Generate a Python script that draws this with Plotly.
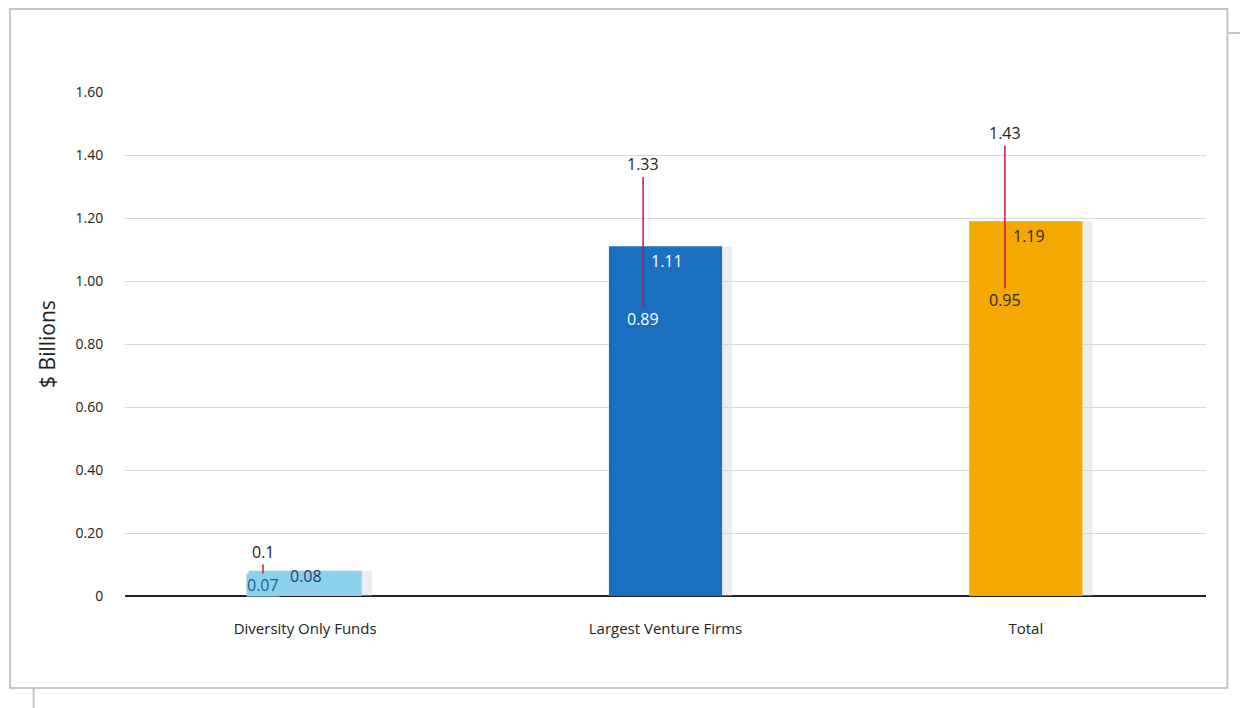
import plotly.graph_objects as go

categories = ["Diversity Only Funds", "Largest Venture Firms", "Total"]
values = [0.08, 1.11, 1.19]
upper = [0.10, 1.33, 1.43]
lower = [0.07, 0.89, 0.95]
tick_vals = [0, 0.2, 0.4, 0.6, 0.8, 1.0, 1.2, 1.4, 1.6]
tick_text = ["0", "0.20", "0.40", "0.60", "0.80", "1.00", "1.20", "1.40", "1.60"]

# styles
bar_colors = ["#8dd0ee", "#1a6fc0", "#f5a800"]
bar_label_colors = ["#1d3f66", "#ffffff", "#2a2a2a"]
low_label_colors = ["#1f5d99", "#ffffff", "#2a2a2a"]
err_offset = [-0.117, -0.062, -0.058]
low_shift = [-11, -3, -3]
val_xshift = [25, 6, 6]
val_yshift = [8, -2, -2]
BAR_W = 0.314
FONT = "Open Sans, Lato, sans-serif"

xpos = list(range(len(categories)))
err_x = [p + o for p, o in zip(xpos, err_offset)]

fig = go.Figure()

# soft shadow behind bars
fig.add_trace(go.Bar(
    x=xpos, y=values, width=BAR_W, offset=-BAR_W / 2 + 0.028,
    marker=dict(color="rgba(205,210,220,0.4)", line=dict(width=0)),
    hoverinfo="skip", showlegend=False,
))
fig.add_trace(go.Bar(
    x=xpos, y=values, width=BAR_W, offset=-BAR_W / 2,
    marker=dict(color=bar_colors, line=dict(width=0)),
    showlegend=False,
))
# range lines
for xe, lo, hi in zip(err_x, lower, upper):
    fig.add_trace(go.Scatter(
        x=[xe, xe], y=[lo, hi], mode="lines",
        line=dict(color="#d2143a", width=1.5),
        hoverinfo="skip", showlegend=False,
    ))

annotations = []
for i in range(len(categories)):
    annotations.append(dict(
        x=err_x[i], y=upper[i], text=f"{upper[i]:g}", showarrow=False,
        xanchor="center", yanchor="bottom", yshift=0,
        font=dict(family=FONT, size=16, color="#222222"),
    ))
    annotations.append(dict(
        x=err_x[i], y=lower[i], text=f"{lower[i]:.2f}", showarrow=False,
        xanchor="center", yanchor="middle", yshift=low_shift[i],
        bgcolor=bar_colors[i], borderpad=0,
        font=dict(family=FONT, size=16, color=low_label_colors[i]),
    ))
    annotations.append(dict(
        x=err_x[i], y=values[i], text=f"{values[i]:.2f}", showarrow=False,
        xanchor="left", yanchor="top", xshift=val_xshift[i], yshift=val_yshift[i],
        font=dict(family=FONT, size=16, color=bar_label_colors[i]),
    ))

# decorative frame
shapes = [
    dict(type="rect", xref="paper", yref="paper", x0=-0.1064, x1=1.0198, y0=-0.1825, y1=1.1647,
         line=dict(color="#c6c6c6", width=2), layer="below"),
    dict(type="line", xref="paper", yref="paper", x0=1.0198, x1=1.05, y0=1.117, y1=1.117,
         line=dict(color="#c6c6c6", width=2)),
    dict(type="line", xref="paper", yref="paper", x0=-0.0845, x1=-0.0845, y0=-0.1825, y1=-0.24,
         line=dict(color="#c6c6c6", width=2)),
]

fig.update_layout(
    width=1240, height=700,
    margin=dict(l=117, r=42, t=84, b=112),
    paper_bgcolor="white", plot_bgcolor="white",
    barmode="overlay",
    annotations=annotations,
    shapes=shapes,
    font=dict(family=FONT, color="#222222"),
    xaxis=dict(
        range=[-0.5, 2.5], tickvals=xpos, ticktext=categories,
        showgrid=False, zeroline=False, showline=False,
        ticks="outside", ticklen=19, tickcolor="rgba(0,0,0,0)",
        tickfont=dict(family=FONT, size=15, color="#222222"),
    ),
    yaxis=dict(
        range=[0, 1.6], tickvals=tick_vals, ticktext=tick_text,
        showgrid=True, gridcolor="#d9d9d9", gridwidth=1,
        zeroline=True, zerolinecolor="#222222", zerolinewidth=2,
        showline=False,
        ticks="outside", ticklen=18, tickcolor="rgba(0,0,0,0)",
        tickfont=dict(family=FONT, size=14, color="#222222"),
        title=dict(text="$ Billions", font=dict(family=FONT, size=21, color="#222222"), standoff=14),
    ),
)

fig.write_html("out.html")
